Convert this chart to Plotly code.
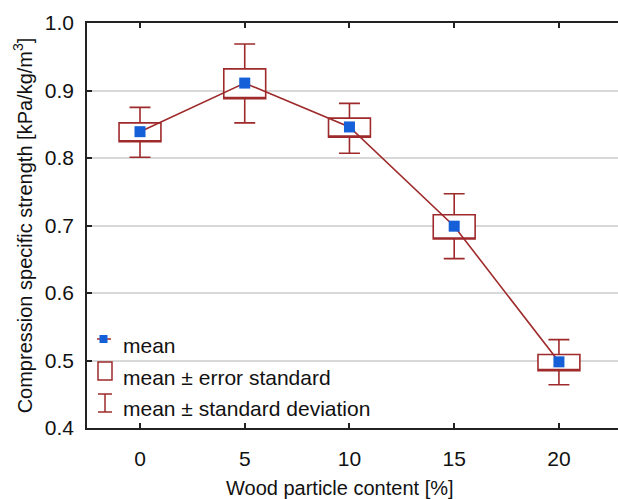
import plotly.graph_objects as go

# ---- data ----
wood_content = [0, 5, 10, 15, 20]
mean_vals = [0.839, 0.911, 0.846, 0.699, 0.498]
se_low = [0.824, 0.888, 0.831, 0.680, 0.485]
se_high = [0.852, 0.932, 0.859, 0.716, 0.509]
sd_low = [0.801, 0.852, 0.807, 0.651, 0.464]
sd_high = [0.875, 0.969, 0.881, 0.747, 0.531]
legend_labels = ["mean", "mean \u00b1 error standard", "mean \u00b1 standard deviation"]
x_title = "Wood particle content [%]"
y_title = "Compression specific strength [kPa/kg/m<sup>3</sup>]"

RED = "#9e2a2b"
BLUE = "#1560d8"
FONT = "Arial, Liberation Sans, sans-serif"

W, H = 618, 499
L, R, T, B = 87, 0, 23, 71

fig = go.Figure()

fig.add_trace(go.Box(
    x=wood_content, q1=se_low, median=se_low, q3=se_high,
    lowerfence=sd_low, upperfence=sd_high,
    width=2, whiskerwidth=0.5,
    fillcolor="white", line=dict(color=RED, width=1.6),
    showlegend=False, boxpoints=False,
))

fig.add_trace(go.Scatter(
    x=wood_content, y=mean_vals, mode="lines+markers",
    line=dict(color=RED, width=1.6),
    marker=dict(symbol="square", size=11, color=BLUE),
    showlegend=False,
))

# ---- manual legend ----
pw, ph = W - L - R, H - T - B
def px(x):
    return (x - L) / pw
def py(y):
    return (H - B - y) / ph

shapes = []
annotations = []
rows_y = [345, 377, 408]
for lab, yy in zip(legend_labels, rows_y):
    annotations.append(dict(
        x=px(121), y=py(yy), xref="paper", yref="paper", text=lab,
        showarrow=False, xanchor="left", yanchor="middle",
        font=dict(family=FONT, size=21, color="#111"),
    ))
annotations.append(dict(
    x=px(340), y=py(488), xref="paper", yref="paper", text=x_title,
    showarrow=False, xanchor="center", yanchor="middle",
    font=dict(family=FONT, size=20, color="#111"),
))
# mean symbol
shapes.append(dict(type="line", xref="paper", yref="paper",
                   x0=px(97), x1=px(111), y0=py(339), y1=py(339),
                   line=dict(color=RED, width=1.5)))
shapes.append(dict(type="rect", xref="paper", yref="paper",
                   x0=px(99.5), x1=px(107.5), y0=py(343), y1=py(335),
                   fillcolor=BLUE, line=dict(width=0)))
# error standard symbol
shapes.append(dict(type="rect", xref="paper", yref="paper",
                   x0=px(98), x1=px(112), y0=py(380), y1=py(362),
                   fillcolor="white", line=dict(color=RED, width=1.5)))
# std dev symbol
for y0, y1, xa, xb in [(394, 394, 98, 112), (412, 412, 98, 112)]:
    shapes.append(dict(type="line", xref="paper", yref="paper",
                       x0=px(xa), x1=px(xb), y0=py(y0), y1=py(y1),
                       line=dict(color=RED, width=1.5)))
shapes.append(dict(type="line", xref="paper", yref="paper",
                   x0=px(105), x1=px(105), y0=py(394), y1=py(412),
                   line=dict(color=RED, width=1.5)))

fig.update_layout(
    width=W, height=H,
    margin=dict(l=L, r=R, t=T, b=B, pad=0),
    paper_bgcolor="white", plot_bgcolor="white",
    font=dict(family=FONT, size=21, color="#111"),
    shapes=shapes, annotations=annotations,
    showlegend=False,
)
fig.update_xaxes(
    range=[-2.53, 22.82], tickvals=wood_content, ticktext=[str(v) for v in wood_content],
    showgrid=False, zeroline=False,
    showline=True, linecolor="#222", linewidth=1.5, mirror="ticks",
    ticks="inside", ticklen=5, tickcolor="#222", tickwidth=1.5,
    tickfont=dict(size=21),
    ticklabelstandoff=11,
)
fig.update_yaxes(
    range=[0.4, 1.0], tickvals=[0.4, 0.5, 0.6, 0.7, 0.8, 0.9, 1.0],
    ticktext=["0.4", "0.5", "0.6", "0.7", "0.8", "0.9", "1.0"],
    showgrid=True, gridcolor="#d8d8d8", gridwidth=1.5, zeroline=False,
    showline=True, linecolor="#222", linewidth=1.5,
    ticks="inside", ticklen=5, tickcolor="#222", tickwidth=1.5,
    tickfont=dict(size=21),
    ticklabelstandoff=7,
    title=dict(text=y_title, standoff=7, font=dict(size=20)),
)

fig.write_html("out.html")
